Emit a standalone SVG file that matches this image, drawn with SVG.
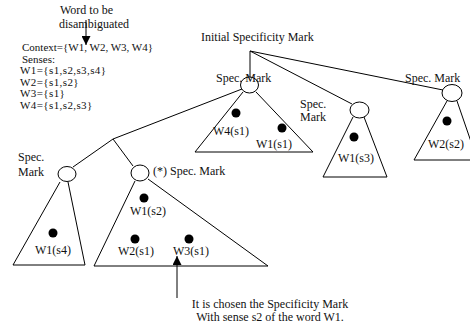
<svg xmlns="http://www.w3.org/2000/svg" width="470" height="327" viewBox="0 0 470 327">
<defs>
<style>
text{font-family:"Liberation Serif","Times New Roman",serif;font-size:12px;fill:#111}
.sm{font-size:11px}
.ln{fill:none;stroke:#000;stroke-width:1}
.mk{fill:#fff;stroke:#000;stroke-width:1}
.dot{fill:#000}
</style>
<marker id="ah" viewBox="0 0 10 10" refX="10" refY="5" markerWidth="9" markerHeight="9" markerUnits="userSpaceOnUse" orient="auto">
<path d="M0,0 L10,5 L0,10 z" fill="#000"/>
</marker>
</defs>
<rect width="470" height="327" fill="#fff"/>
<g id="context">
<text x="60" y="14">Word to be</text>
<text x="59" y="28">disambiguated</text>
<text class="sm" x="22" y="51">Context={W1, W2, W3, W4}</text>
<text class="sm" x="22" y="62.5">Senses:</text>
<text class="sm" x="20" y="74" letter-spacing="0.4">W1={s1,s2,s3,s4}</text>
<text class="sm" x="20" y="85.5" letter-spacing="0.4">W2={s1,s2}</text>
<text class="sm" x="20" y="97" letter-spacing="0.4">W3={s1}</text>
<text class="sm" x="20" y="108.5" letter-spacing="0.4">W4={s1,s2,s3}</text>
</g>
<g id="connectors">
<line class="ln" x1="86" y1="20" x2="86" y2="45" marker-end="url(#ah)"/>
<line class="ln" x1="250" y1="51" x2="250" y2="77"/>
<line class="ln" x1="250" y1="51" x2="352" y2="104"/>
<line class="ln" x1="250" y1="51" x2="443" y2="90"/>
<polyline class="ln" points="242,89 113,139 73,167"/>
<line class="ln" x1="113" y1="139" x2="133" y2="166"/>
<line class="ln" x1="177" y1="298" x2="177" y2="256" marker-end="url(#ah)"/>
</g>
<g id="root">
<text x="201" y="41">Initial Specificity Mark</text>
</g>
<g id="mark1">
<polyline class="ln" points="243,92 195,152 313,152 256,92"/>
<ellipse class="mk" cx="249.5" cy="85" rx="9" ry="8"/>
<text x="216" y="82">Spec. Mark</text>
<circle class="dot" cx="236" cy="113" r="4.5"/>
<circle class="dot" cx="282" cy="128" r="4.5"/>
<text x="213" y="135">W4(s1)</text>
<text x="256" y="148">W1(s1)</text>
</g>
<g id="mark2">
<polyline class="ln" points="353,117 323,177 387,177 364,117"/>
<ellipse class="mk" cx="359.5" cy="110" rx="9.5" ry="8"/>
<text x="300" y="108">Spec.</text>
<text x="300" y="121">Mark</text>
<circle class="dot" cx="354" cy="137" r="4.5"/>
<text x="338" y="162">W1(s3)</text>
</g>
<g id="mark3">
<polyline class="ln" points="447,101 414,160 475,160"/>
<line class="ln" x1="457" y1="101" x2="478" y2="162"/>
<ellipse class="mk" cx="452" cy="93" rx="10" ry="8.5"/>
<text x="405" y="82">Spec. Mark</text>
<circle class="dot" cx="447" cy="121" r="4.5"/>
<text x="428" y="148">W2(s2)</text>
</g>
<g id="markL">
<polyline class="ln" points="60,182 13,265 85,265 68,182"/>
<ellipse class="mk" cx="67" cy="174" rx="9" ry="7.5"/>
<text x="18" y="161">Spec.</text>
<text x="18" y="176">Mark</text>
<circle class="dot" cx="53" cy="233" r="4.5"/>
<text x="35" y="254">W1(s4)</text>
</g>
<g id="markM">
<polyline class="ln" points="135,181 94,266 268,266 148,179"/>
<ellipse class="mk" cx="140" cy="173" rx="9" ry="8"/>
<text x="153" y="175">(*) Spec. Mark</text>
<circle class="dot" cx="144" cy="198" r="4.5"/>
<text x="130" y="215">W1(s2)</text>
<circle class="dot" cx="135" cy="239" r="4.5"/>
<text x="118" y="255">W2(s1)</text>
<circle class="dot" cx="189" cy="239" r="4.5"/>
<text x="173" y="255">W3(s1)</text>
</g>
<g id="note">
<text x="270" y="308" text-anchor="middle">It is chosen the Specificity Mark</text>
<text x="270" y="321" text-anchor="middle">With sense s2 of the word W1.</text>
</g>
</svg>
